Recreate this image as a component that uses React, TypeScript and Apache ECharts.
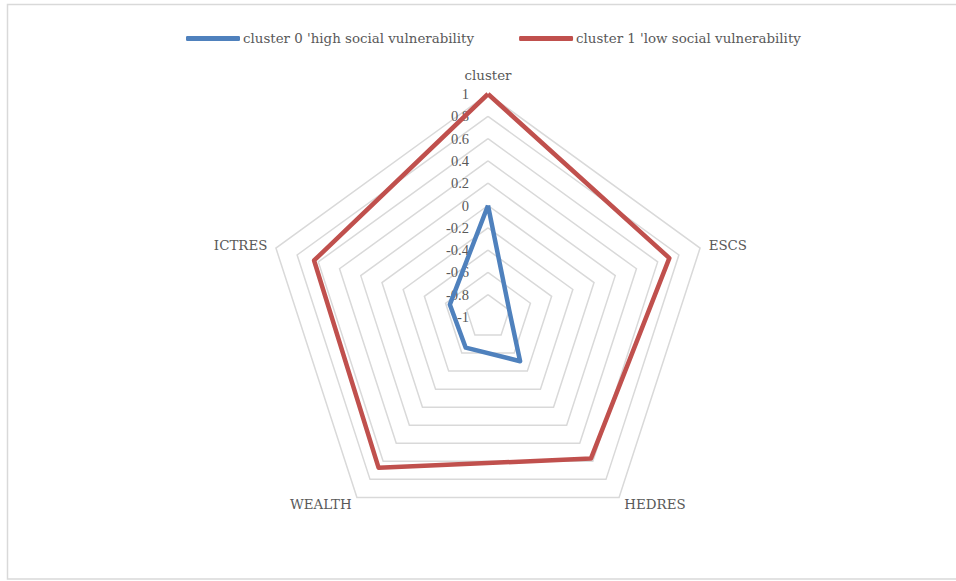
import React, { useEffect, useRef } from "react";
import * as echarts from "echarts";

// Indicators listed in ECharts' counter-clockwise order (Excel draws them clockwise)
const indicators = ["cluster", "ICTRES", "WEALTH", "HEDRES", "ESCS"];
const seriesNames = ["cluster 0 'high social vulnerability", "cluster 1 'low social vulnerability"];
// values in the same order as indicators: cluster, ICTRES, WEALTH, HEDRES, ESCS
const cluster0 = [0, -0.64, -0.66, -0.51, -0.8];
const cluster1 = [1, 0.64, 0.67, 0.57, 0.71];
const colors = ["#4f81bd", "#c0504d"];
const axisMin = -1;
const axisMax = 1;

const FONT = "'DejaVu Serif', serif";
const TICK_FONT = "'Liberation Serif', serif";
const TEXT = "#595959";

export default function App() {
  const ref = useRef<HTMLDivElement>(null);
  useEffect(() => {
    if (!ref.current) return;
    const chart = echarts.init(ref.current, undefined, { renderer: "svg" });
    chart.setOption({
      animation: false,
      backgroundColor: "#ffffff",
      textStyle: { fontFamily: FONT, color: TEXT },
      graphic: [
        {
          type: "rect",
          shape: { x: 7.5, y: 4.5, width: 1000, height: 574.5 },
          style: { fill: "none", stroke: "#d9d9d9", lineWidth: 1.5 },
          silent: true,
        },
      ],
      legend: {
        top: 27,
        left: 181,
        itemWidth: 54,
        itemHeight: 5,
        itemGap: 45,
        icon: "roundRect",
        textStyle: { fontFamily: FONT, fontSize: 13.4, color: TEXT, padding: [0, 0, 0, -2] },
        data: seriesNames,
      },
      radar: {
        center: [488, 317],
        radius: 223,
        shape: "polygon",
        splitNumber: 10,
        startAngle: 90,
        nameGap: 9,
        axisName: {
          color: TEXT,
          fontFamily: FONT,
          fontSize: 13.4,
          formatter: (name: string) => (name === indicators[0] ? `{top|${name}}` : name),
          rich: {
            top: { color: TEXT, fontFamily: FONT, fontSize: 13.4, padding: [0, 0, 3, 0] },
          },
        },
        axisLine: { show: false },
        axisTick: { show: false },
        axisLabel: { show: false },
        splitLine: { lineStyle: { color: "#d9d9d9", width: 1.5 } },
        splitArea: { show: false },
        indicator: indicators.map((name, i) => ({
          name,
          min: axisMin,
          max: axisMax,
          axisLabel:
            i === 0
              ? {
                  show: true,
                  color: TEXT,
                  fontFamily: TICK_FONT,
                  fontSize: 14.5,
                  margin: 19,
                  showMinLabel: true,
                  showMaxLabel: true,
                  formatter: (v: number) => String(Math.round(v * 10) / 10),
                }
              : { show: false },
        })),
      },
      series: [
        {
          type: "radar",
          symbol: "none",
          data: [
            {
              name: seriesNames[0],
              value: cluster0,
              lineStyle: { color: colors[0], width: 4.5 },
              itemStyle: { color: colors[0] },
            },
            {
              name: seriesNames[1],
              value: cluster1,
              lineStyle: { color: colors[1], width: 4.5 },
              itemStyle: { color: colors[1] },
            },
          ],
        },
      ],
    });
    return () => chart.dispose();
  }, []);
  return (
    <div
      ref={ref}
      style={{ position: "absolute", left: 0, top: 0, width: 956, height: 581 }}
    />
  );
}
